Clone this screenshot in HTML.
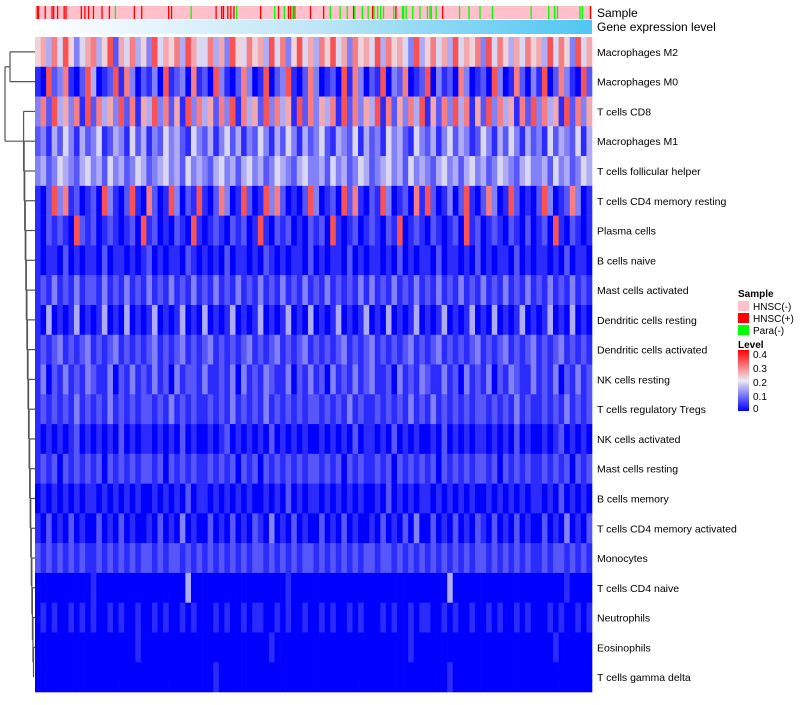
<!DOCTYPE html>
<html><head><meta charset="utf-8"><style>
body{margin:0;background:#fff;width:800px;height:700px;overflow:hidden}
svg text{font-family:"Liberation Sans",Arial,sans-serif}
</style></head><body>
<svg id="chart" width="800" height="700" xmlns="http://www.w3.org/2000/svg">
<defs>
<linearGradient id="levelGrad" x1="0" x2="0" y1="1" y2="0"><stop offset="0" stop-color="#0000ff"/><stop offset="0.5" stop-color="#eeeaf2"/><stop offset="1" stop-color="#ff0000"/></linearGradient>
<linearGradient id="geneGrad" gradientUnits="userSpaceOnUse" x1="35" y1="0" x2="592" y2="0"><stop offset="0" stop-color="#ffffff"/><stop offset="0.5" stop-color="#bfe6f8"/><stop offset="1" stop-color="#4fc6f2"/></linearGradient>
</defs>
<g id="dend"></g>
<g id="cells"></g>
<rect x="35" y="6" width="557" height="13" fill="#ffc0cb"/>
<g id="sampleMarks"></g>
<rect x="35" y="20" width="557" height="14" fill="url(#geneGrad)"/>
<text x="597" y="17" font-size="12">Sample</text>
<text x="597" y="31" font-size="12">Gene expression level</text>
<g id="labels"></g>
<g>
<text x="738" y="297" font-size="10" font-weight="bold">Sample</text>
<rect x="738" y="301" width="11" height="10" fill="#ffc0cb"/>
<text x="753" y="310" font-size="10">HNSC(-)</text>
<rect x="738" y="313" width="11" height="10" fill="#ff0000"/>
<text x="753" y="322" font-size="10">HNSC(+)</text>
<rect x="738" y="325" width="11" height="10" fill="#00ff00"/>
<text x="753" y="334" font-size="10">Para(-)</text>
<text x="738" y="348" font-size="10" font-weight="bold">Level</text>
<rect x="738" y="350" width="11" height="61" fill="url(#levelGrad)"/>
<text x="753" y="358" font-size="10">0.4</text>
<text x="753" y="372" font-size="10">0.3</text>
<text x="753" y="386" font-size="10">0.2</text>
<text x="753" y="400" font-size="10">0.1</text>
<text x="753" y="412" font-size="10">0</text>
</g>
</svg>
<script>
const rowNames=["Macrophages M2","Macrophages M0","T cells CD8","Macrophages M1","T cells follicular helper","T cells CD4 memory resting","Plasma cells","B cells naive","Mast cells activated","Dendritic cells resting","Dendritic cells activated","NK cells resting","T cells regulatory  Tregs","NK cells activated","Mast cells resting","B cells memory","T cells CD4 memory activated","Monocytes","T cells CD4 naive","Neutrophils","Eosinophils","T cells gamma delta"];
const rowLevels=[
"6748596357 8469275846 3957684975 5847396586 7495836957 4869573867 5948675394 6857495768 3958647586 7495863957",
"1092381029 4012918302 1309123081 2093102830 1902391028 3012091830 2190328012 9031208301 2093018203 1902831092",
"3829473819 2847392817 4938271938 4728391847 2938471928 3748192837 4918273849 1728394817 2938471829 3847192837",
"2314253142 3512431524 1325342153 2413524132 5314253142 3521432514 2315342153 2413524312 5314253142 3152432514",
"3423543245 3425342354 2345342534 3245342453 4235432453 3425342354 2345342534 3245342453 4235432453 3425342354",
"1029381201 2093102910 8201930219 1028301920 1938201029 3012092810 2193012081 9201302910 2830192010 2930128301",
"1021210921 2012101209 1201021091 0121021201 9102120102 1209101201 2102190121 0210120912 0121021020 1209102101",
"1011020101 1020110101 2010110210 1010201101 0210101102 0101102010 1101020101 1020110102 0101102010 1101020110",
"1213121312 2131213121 3121312131 2131213121 3121312131 2131212131 3121312131 2131213121 3121312131 2131213121",
"1040101401 0140104010 1401014010 4010140101 4010140104 0101401014 0104010140 1014010140 1040101401 0140104010",
"1212312123 1212312121 2312123121 2312121231 2123121231 2121231212 3121212312 1231212123 1212312123 1212312121",
"1302131213 2113021312 1312031221 3112130312 1321130213 1203121312 3112031213 2113120312 1302132113 1213021312",
"1212121312 1213121212 2121312121 1212131212 1312121212 2121213121 1212121312 1312121212 2121213121 1212131212",
"1010101201 0101020101 1010102010 0101201010 1020101010 0101010201 1010201010 0102010101 1010102010 0101201010",
"1212021212 1202121212 2120212121 1212120212 0212121212 2121202121 1212021212 1202121212 2120212121 1212120212",
"0101010101 1010101010 0101010201 1010101010 0101020101 1010101010 0102010101 1010101010 0101010101 1010201010",
"1020102010 0201020100 1020103010 0201020102 1030102010 0201020100 1020102030 0201020102 1020102010 0201030102",
"2121212121 1212121212 2121221212 1212121212 2121212122 1212121212 2122121212 1212121212 2121212121 1212212121",
"0000000000 1000000000 0000000400 0000000000 0000010000 0000000000 0000000000 0000400000 0000000000 0000010000",
"0101001010 1001010010 0101001010 0010100101 1001010010 0101001010 0010100101 1001010010 0101001010 0010100101",
"0000000000 0000000010 0000000000 0000000000 0010000000 0000000000 0000000100 0000000000 0000000000 0001000000",
"0000000000 0000000000 0000000000 0010000000 0000000000 0000000000 0000000000 0000100000 0000000000 0000000000"];
const posSamples=[1.5,2.6,8.6,14.7,16.2,19.7,25.6,27.3,41,44.2,47.5,51.9,59.6,66.2,88.6,95.2,119.4,122,162,167,168.6,172.5,175.2,178,202,218,227,229,231.7,246.7,258.5,285.4,302.5,323.4,365.4,498];
const paraSamples=[71.6,139.6,180.5,214.6,223.2,231,233,264.5,273.3,279.7,286.5,293.3,298.5,303.8,307,309.7,312.3,321.5,329.3,330.3,332.6,338.5,345,351.7,353.9,355.2,359.5,380.5,389,398.9,410,444.8,460.5,465.8,468.4,488.7,490.7];
const totalSamples=500;
const levelMax=0.4;
const digitScale=0.33;

const NS="http://www.w3.org/2000/svg";
const X0=35,X1=592,Y0=37,Y1=692;
const nR=rowNames.length, rowH=(Y1-Y0)/nR;
function xS(i,n){return X0+(X1-X0)*i/n;}
function yS(r){return Y0+r*rowH;}
function colorOf(v){
  let t=Math.max(0,Math.min(1,v/levelMax));
  const lo=[0,0,255],mid=[238,234,242],hi=[255,0,0];
  let a,b,u;
  if(t<0.5){a=lo;b=mid;u=t/0.5;}else{a=mid;b=hi;u=(t-0.5)/0.5;}
  return `rgb(${a.map((c,k)=>Math.round(c+(b[k]-c)*u)).join(',')})`;
}
const cells=document.getElementById('cells');
rowLevels.forEach((s,r)=>{
  const d=s.replace(/\s/g,'');
  const n=d.length;
  for(let i=0;i<n;i++){
    const v=(+d[i])/9*digitScale;
    const el=document.createElementNS(NS,'rect');
    
    
    const x=xS(i,n);
    el.setAttribute('x',x);el.setAttribute('y',yS(r));
    el.setAttribute('width',xS(i+1,n)-x+0.3);el.setAttribute('height',rowH+0.3);
    el.setAttribute('fill',colorOf(v));
    cells.appendChild(el);
  }
  const t=document.createElementNS(NS,'text');
  
  
  t.setAttribute('x',597);t.setAttribute('y',yS(r)+rowH/2+4);
  t.setAttribute('font-size','10.5');
  t.textContent=rowNames[r];
  document.getElementById('labels').appendChild(t);
});
const sm=document.getElementById('sampleMarks');
[[posSamples,'#ff0000'],[paraSamples,'#00ff00']].forEach(([arr,c])=>arr.forEach(i=>{
  const el=document.createElementNS(NS,'rect');
  
  
  el.setAttribute('x',xS(i,totalSamples));el.setAttribute('y',6);
  el.setAttribute('width',1.3);el.setAttribute('height',13);
  el.setAttribute('fill',c);sm.appendChild(el);
}));
const dg=document.getElementById('dend');
function line(x1,y1,x2,y2){
  const l=document.createElementNS(NS,'line');
  
  
  l.setAttribute('x1',x1);l.setAttribute('y1',y1);l.setAttribute('x2',x2);l.setAttribute('y2',y2);
  l.setAttribute('stroke','#555');l.setAttribute('stroke-width','1.2');dg.appendChild(l);
}
const cy=r=>yS(r)+rowH/2;
let cx=33.5, cY=cy(nR-1);
for(let r=nR-2;r>=2;r--){
  const h=33.5-(nR-2-r)*0.55;
  line(h,cy(r),35,cy(r));
  line(h,cY,cx,cY);
  line(h,cy(r),h,cY);
  cY=(cy(r)+cY)/2;cx=h;
}
line(10,cy(0),35,cy(0));line(10,cy(1),35,cy(1));line(10,cy(0),10,cy(1));
const topY=(cy(0)+cy(1))/2;
line(5,topY,10,topY);line(5,cY,cx,cY);line(5,topY,5,cY);
</script>
</body></html>
